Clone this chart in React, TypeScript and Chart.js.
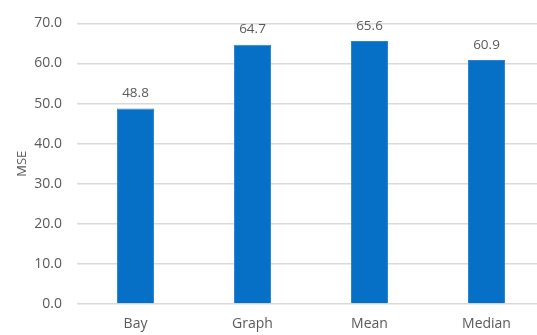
import React, { useEffect, useRef } from "react";
import { Chart, registerables } from "chart.js";

Chart.register(...registerables);

const categories = ["Bay", "Graph", "Mean", "Median"];
const mseValues = [48.8, 64.7, 65.6, 60.9];
const yTicks = [0, 10, 20, 30, 40, 50, 60, 70];

const TEXT = "#595959";
const FONT = "'Open Sans', 'Noto Sans', sans-serif";

const valueLabels = {
  id: "valueLabels",
  afterDatasetsDraw(chart: any) {
    const { ctx } = chart;
    const meta = chart.getDatasetMeta(0);
    ctx.save();
    ctx.fillStyle = TEXT;
    ctx.font = `13.5px ${FONT}`;
    ctx.textAlign = "center";
    ctx.textBaseline = "middle";
    meta.data.forEach((bar: any, i: number) => {
      const v = chart.data.datasets[0].data[i] as number;
      ctx.fillText(v.toFixed(1), bar.x, bar.y - 15);
    });
    ctx.restore();
  },
};

export default function App() {
  const ref = useRef<HTMLCanvasElement>(null);

  useEffect(() => {
    if (!ref.current) return;
    const chart = new Chart(ref.current, {
      type: "bar",
      data: {
        labels: categories,
        datasets: [
          {
            label: "MSE",
            data: mseValues,
            backgroundColor: "#0670c6",
            borderColor: "#2a84d2",
            borderWidth: 1,
            barPercentage: 0.316,
            categoryPercentage: 1,
          },
        ],
      },
      options: {
        responsive: false,
        animation: false,
        devicePixelRatio: 1,
        layout: { padding: { top: 19, left: 14, right: 0, bottom: 0 } },
        plugins: {
          legend: { display: false },
          tooltip: { enabled: false },
        },
        scales: {
          x: {
            grid: { display: false, drawTicks: false },
            border: { display: false },
            ticks: {
              color: TEXT,
              font: { family: FONT, size: 14 },
              padding: 12,
            },
            afterFit(scale: any) {
              scale.height = 31;
            },
          },
          y: {
            min: 0,
            max: 70,
            afterBuildTicks(scale: any) {
              scale.ticks = yTicks.map((v) => ({ value: v }));
            },
            grid: { color: "#d9d9d9", lineWidth: 1.5, drawTicks: false },
            border: { display: false },
            ticks: {
              color: TEXT,
              font: { family: FONT, size: 14 },
              padding: 15,
              callback: (v: any) => Number(v).toFixed(1),
            },
            title: {
              display: true,
              text: "MSE",
              color: TEXT,
              font: { family: FONT, size: 13 },
              padding: { top: 0, bottom: 0 },
            },
            afterFit(scale: any) {
              scale.width = 63;
            },
          },
        },
      },
      plugins: [valueLabels],
    });
    return () => chart.destroy();
  }, []);

  return (
    <div
      style={{
        position: "fixed",
        top: 0,
        left: 0,
        width: 537,
        height: 335,
        overflow: "hidden",
        background: "#fff",
      }}
    >
      <canvas ref={ref} width={545} height={335} style={{ display: "block" }} />
    </div>
  );
}
